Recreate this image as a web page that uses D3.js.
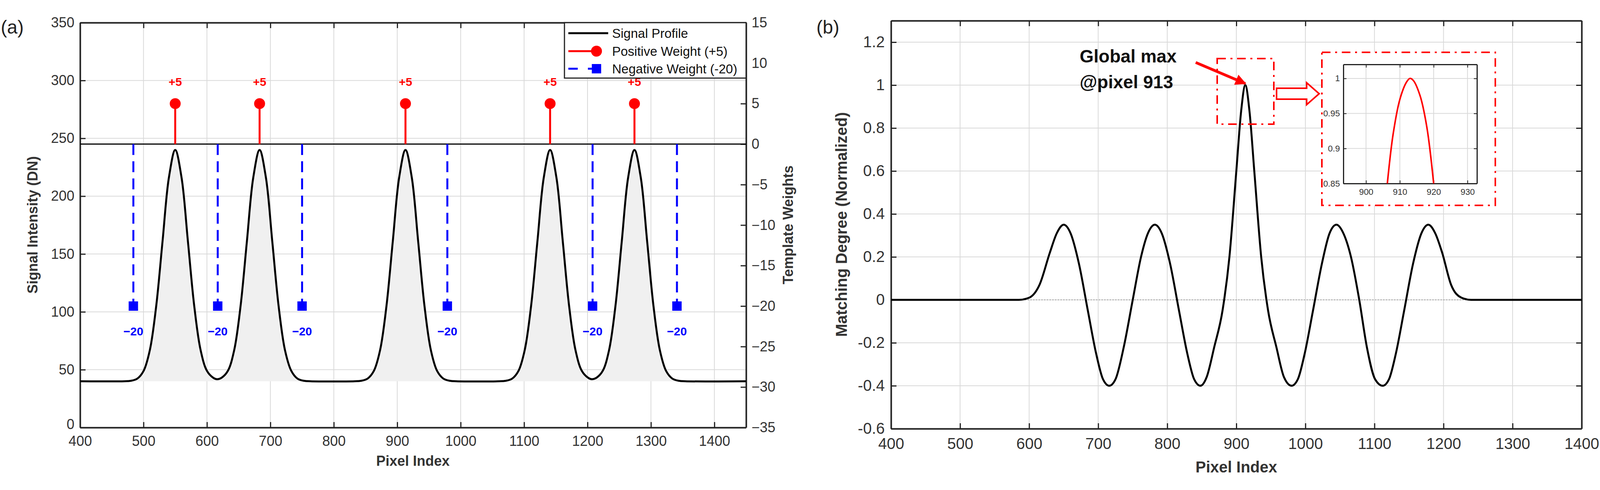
<!DOCTYPE html>
<html>
<head>
<meta charset="utf-8">
<script src="https://cdn.jsdelivr.net/npm/d3@7"></script>
<style>
  body { margin: 0; background: #fff; }
  text { font-family: Arial, "Liberation Sans", sans-serif; }
</style>
</head>
<body>
<svg id="chart" width="4120" height="1255"></svg>
<script>
// ---- data ----
// panel (a): signal profile (DN)
var signalX = [400, 470, 480, 490, 500, 510, 520, 530, 540, 550, 560, 570, 580, 590, 600, 610, 616, 623, 633, 643, 653, 663, 673, 683, 693, 703, 713, 723, 733, 743, 753, 763,
  833, 843, 853, 863, 873, 883, 893, 903, 913, 923, 933, 943, 953, 963, 973, 983, 993,
  1061, 1071, 1081, 1091, 1101, 1111, 1121, 1131, 1141, 1151, 1161, 1171, 1181, 1191, 1201, 1207, 1214, 1224, 1234, 1244, 1254, 1264, 1274, 1284, 1294, 1304, 1314, 1324, 1334, 1344, 1354, 1450];
var signalY = [40, 40, 40.4, 42.2, 48.8, 67, 105, 161, 216, 240, 216, 161, 105, 67, 49, 43, 41.8, 43, 49, 67, 105, 161, 216, 240, 216, 161, 105, 67, 49, 42.2, 40.4, 40,
  40, 40.4, 42.2, 48.8, 67, 105, 161, 216, 240, 216, 161, 105, 67, 48.8, 42.2, 40.4, 40,
  40, 40.4, 42.2, 48.8, 67, 105, 161, 216, 240, 216, 161, 105, 67, 49, 43, 41.8, 43, 49, 67, 105, 161, 216, 240, 216, 161, 105, 67, 48.8, 42.2, 40.4, 40, 40];
var baseline = 40;
var posX = [550, 683, 913, 1141, 1274];
var posW = 5;
var negX = [484, 617, 750, 979, 1208, 1341];
var negW = -20;

// panel (b): matching degree
var matchX = [400, 500, 585, 600, 615, 630, 640, 650, 660, 672, 685, 697, 707, 716, 725, 737, 750, 762, 772, 782, 792, 804, 817, 829, 839, 848, 857, 868, 880, 890, 900, 907, 913,
  919, 926, 936, 946, 958, 969, 980, 989, 999, 1011, 1024, 1035, 1045, 1055, 1066, 1078, 1089, 1101, 1112, 1121, 1131, 1143, 1156, 1168, 1178, 1188, 1198, 1211, 1226, 1240, 1320, 1400];
var matchY = [0, 0, 0, 0.01, 0.07, 0.22, 0.31, 0.35, 0.31, 0.17, -0.05, -0.25, -0.37, -0.40, -0.37, -0.22, 0.0, 0.2, 0.31, 0.35, 0.31, 0.17, -0.05, -0.25, -0.37, -0.40, -0.36, -0.22, -0.05, 0.2, 0.6, 0.88, 1.0,
  0.88, 0.6, 0.2, -0.05, -0.22, -0.36, -0.40, -0.37, -0.25, -0.05, 0.17, 0.31, 0.35, 0.31, 0.2, 0.0, -0.22, -0.37, -0.40, -0.37, -0.25, -0.05, 0.17, 0.31, 0.35, 0.31, 0.22, 0.07, 0.01, 0, 0, 0];
// zoomed peak
var insetX = [906.3, 908, 910, 912, 913, 914, 916, 918, 920];
var insetY = [0.85, 0.92, 0.97, 0.995, 1.0, 0.997, 0.975, 0.93, 0.85];

var xTicksA = d3.range(400, 1401, 100);
var yTicksA = d3.range(0, 351, 50);
var wTicks = d3.range(-35, 16, 5);
var xTicksB = d3.range(400, 1401, 100);
var yTicksB = [-0.6, -0.4, -0.2, 0, 0.2, 0.4, 0.6, 0.8, 1, 1.2];

var svg = d3.select("#chart");
var grid = "#d9d9d9";
var fmt = d => String(+d.toFixed(2));

// helper: draw a boxed axes frame with grid + inward ticks
function frame(g, x, y, xt, yt, fs, tick, rightTicks) {
  var x0 = x.range()[0], x1 = x.range()[1], y0 = y.range()[0], y1 = y.range()[1];
  g.selectAll(".gx").data(xt).join("line").attr("x1", x).attr("x2", x).attr("y1", y1).attr("y2", y0)
    .attr("stroke", grid).attr("stroke-width", 2);
  g.selectAll(".gy").data(yt).join("line").attr("class", "gy").attr("x1", x0).attr("x2", x1).attr("y1", y).attr("y2", y)
    .attr("stroke", grid).attr("stroke-width", 2);
  var ax = d3.axisBottom(x).tickValues(xt).tickFormat(fmt).tickSize(-tick).tickPadding(fs * 0.6).tickSizeOuter(0);
  g.append("g").attr("transform", `translate(0,${y0})`).call(ax);
  var ay = d3.axisLeft(y).tickValues(yt).tickFormat(fmt).tickSize(-tick).tickPadding(fs * 0.4).tickSizeOuter(0);
  g.append("g").attr("class", "yl").attr("transform", `translate(${x0},0)`).call(ay);
  var axt = d3.axisTop(x).tickValues(xt).tickSize(-tick).tickFormat("").tickSizeOuter(0);
  g.append("g").attr("transform", `translate(0,${y1})`).call(axt);
  if (!rightTicks) {
    var ayr = d3.axisRight(y).tickValues(yt).tickSize(-tick).tickFormat("").tickSizeOuter(0);
    g.append("g").attr("transform", `translate(${x1},0)`).call(ayr);
  }
  g.selectAll(".domain").attr("stroke", "#222").attr("stroke-width", 4);
  g.selectAll(".tick line").attr("stroke", "#222").attr("stroke-width", 3);
  g.selectAll(".tick text").attr("font-size", fs).attr("fill", "#333").attr("font-family", "Arial");
}

// ---------- panel (a) ----------
var xa = d3.scaleLinear().domain([400, 1450]).range([205, 1910]);
var ya = d3.scaleLinear().domain([0, 350]).range([1095, 58]);
var yw = d3.scaleLinear().domain([-35, 15]).range([1095, 58]);
var ga = svg.append("g");

frame(ga, xa, ya, xTicksA, yTicksA, 36, 14, true);
// lift the bottom "0" a little so it clears "400"
ga.select(".yl").selectAll(".tick text").filter(d => d === 0).attr("dy", "0.1em");
// right axis
var ayw = d3.axisRight(yw).tickValues(wTicks).tickSize(-14).tickPadding(14).tickSizeOuter(0);
ga.append("g").attr("transform", `translate(1910,0)`).call(ayw)
  .call(s => s.select(".domain").attr("stroke", "#222").attr("stroke-width", 4))
  .call(s => s.selectAll(".tick line").attr("stroke", "#222").attr("stroke-width", 3))
  .call(s => s.selectAll(".tick text").attr("font-size", 36).attr("fill", "#333"));

var pts = signalX.map((d, i) => [d, signalY[i]]);
ga.append("path").datum(pts)
  .attr("d", d3.area().x(d => xa(d[0])).y0(ya(baseline)).y1(d => ya(d[1])).curve(d3.curveCatmullRom.alpha(0.5)))
  .attr("fill", "#f0f0f0");
ga.append("path").datum(pts)
  .attr("d", d3.line().x(d => xa(d[0])).y(d => ya(d[1])).curve(d3.curveCatmullRom.alpha(0.5)))
  .attr("fill", "none").attr("stroke", "#000").attr("stroke-width", 5);

// zero line of template weights
ga.append("line").attr("x1", 205).attr("x2", 1910).attr("y1", yw(0)).attr("y2", yw(0))
  .attr("stroke", "#000").attr("stroke-width", 3);

// positive stems
ga.selectAll(".ps").data(posX).join("line").attr("x1", xa).attr("x2", xa)
  .attr("y1", yw(0)).attr("y2", yw(posW)).attr("stroke", "red").attr("stroke-width", 5);
ga.selectAll(".pm").data(posX).join("circle").attr("cx", xa).attr("cy", yw(posW)).attr("r", 14).attr("fill", "red");
ga.selectAll(".pl").data(posX).join("text").attr("x", xa).attr("y", yw(posW + 2.2))
  .attr("text-anchor", "middle").attr("font-size", 30).attr("font-weight", "bold").attr("fill", "red").text("+5");

// negative stems
ga.selectAll(".ns").data(negX).join("line").attr("x1", xa).attr("x2", xa)
  .attr("y1", yw(0)).attr("y2", yw(negW)).attr("stroke", "blue").attr("stroke-width", 5)
  .attr("stroke-dasharray", "28,16");
ga.selectAll(".nm").data(negX).join("rect").attr("x", d => xa(d) - 12).attr("y", yw(negW) - 12)
  .attr("width", 24).attr("height", 24).attr("fill", "blue");
ga.selectAll(".nl").data(negX).join("text").attr("x", xa).attr("y", yw(negW - 3.6))
  .attr("text-anchor", "middle").attr("font-size", 30).attr("font-weight", "bold").attr("fill", "blue").text("\u221220");

// legend
var lg = ga.append("g");
lg.append("rect").attr("x", 1445).attr("y", 58).attr("width", 465).attr("height", 142)
  .attr("fill", "#fff").attr("stroke", "#222").attr("stroke-width", 3);
lg.append("line").attr("x1", 1455).attr("x2", 1557).attr("y1", 85).attr("y2", 85).attr("stroke", "#000").attr("stroke-width", 5);
lg.append("line").attr("x1", 1455).attr("x2", 1527).attr("y1", 131).attr("y2", 131).attr("stroke", "red").attr("stroke-width", 5);
lg.append("circle").attr("cx", 1527).attr("cy", 131).attr("r", 14).attr("fill", "red");
lg.append("line").attr("x1", 1455).attr("x2", 1540).attr("y1", 176).attr("y2", 176).attr("stroke", "blue").attr("stroke-width", 5).attr("stroke-dasharray", "24,26");
lg.append("rect").attr("x", 1515).attr("y", 164).attr("width", 24).attr("height", 24).attr("fill", "blue");
["Signal Profile", "Positive Weight (+5)", "Negative Weight (-20)"].forEach(function (t, i) {
  lg.append("text").attr("x", 1567).attr("y", 85 + i * 45.5 + 12).attr("font-size", 33).attr("fill", "#111").text(t);
});

ga.append("text").attr("x", 1057).attr("y", 1193).attr("text-anchor", "middle").attr("font-size", 36).attr("font-weight", "bold").attr("fill", "#333").text("Pixel Index");
ga.append("text").attr("transform", "translate(96,576) rotate(-90)").attr("text-anchor", "middle").attr("font-size", 36).attr("font-weight", "bold").attr("fill", "#333").text("Signal Intensity (DN)");
ga.append("text").attr("transform", "translate(2030,576) rotate(-90)").attr("text-anchor", "middle").attr("font-size", 36).attr("font-weight", "bold").attr("fill", "#333").text("Template Weights");
svg.append("text").attr("x", 2).attr("y", 86).attr("font-size", 48).attr("fill", "#222").text("(a)");

// ---------- panel (b) ----------
var xb = d3.scaleLinear().domain([400, 1400]).range([2281, 4049]);
var yb = d3.scaleLinear().domain([-0.6, 1.3]).range([1098, 53]);
var gb = svg.append("g");
frame(gb, xb, yb, xTicksB, yTicksB, 40, 14, false);
gb.append("line").attr("x1", 2281).attr("x2", 4049).attr("y1", yb(0)).attr("y2", yb(0))
  .attr("stroke", "#999").attr("stroke-width", 2).attr("stroke-dasharray", "3,4");
var mpts = matchX.map((d, i) => [d, matchY[i]]);
gb.append("path").datum(mpts)
  .attr("d", d3.line().x(d => xb(d[0])).y(d => yb(d[1])).curve(d3.curveMonotoneX))
  .attr("fill", "none").attr("stroke", "#000").attr("stroke-width", 5);

gb.append("text").attr("x", 3165).attr("y", 1210).attr("text-anchor", "middle").attr("font-size", 40).attr("font-weight", "bold").attr("fill", "#333").text("Pixel Index");
gb.append("text").attr("transform", "translate(2168,575) rotate(-90)").attr("text-anchor", "middle").attr("font-size", 40).attr("font-weight", "bold").attr("fill", "#333").text("Matching Degree (Normalized)");
svg.append("text").attr("x", 2090).attr("y", 86).attr("font-size", 48).attr("fill", "#222").text("(b)");

// annotation
gb.append("text").attr("x", 2764).attr("y", 160).attr("font-size", 46).attr("font-weight", "bold").attr("fill", "#111").text("Global max");
gb.append("text").attr("x", 2764).attr("y", 226).attr("font-size", 46).attr("font-weight", "bold").attr("fill", "#111").text("@pixel 913");
svg.append("defs").append("marker").attr("id", "ah").attr("viewBox", "0 0 10 10").attr("refX", 9).attr("refY", 5)
  .attr("markerWidth", 4).attr("markerHeight", 4).attr("orient", "auto")
  .append("path").attr("d", "M0,0L10,5L0,10z").attr("fill", "red");
gb.append("line").attr("x1", 3061).attr("y1", 160).attr("x2", xb(913)).attr("y2", yb(1) - 4)
  .attr("stroke", "red").attr("stroke-width", 7).attr("marker-end", "url(#ah)");
var dashDot = "22,12,5,12";
gb.append("rect").attr("x", 3116).attr("y", 150).attr("width", 145).attr("height", 168)
  .attr("fill", "none").attr("stroke", "red").attr("stroke-width", 4).attr("stroke-dasharray", dashDot);
gb.append("path").attr("d", "M3268,226 L3345,226 L3345,212 L3377,240 L3345,268 L3345,254 L3268,254 Z")
  .attr("fill", "#fff").attr("stroke", "red").attr("stroke-width", 4);
gb.append("rect").attr("x", 3384).attr("y", 134).attr("width", 444).attr("height", 392)
  .attr("fill", "#fff").attr("stroke", "red").attr("stroke-width", 4).attr("stroke-dasharray", dashDot);

// inset axes
var xi = d3.scaleLinear().domain([893.3, 932.8]).range([3439, 3781]);
var yi = d3.scaleLinear().domain([0.85, 1.02]).range([470, 165]);
var gi = gb.append("g");
frame(gi, xi, yi, [900, 910, 920, 930], [0.85, 0.9, 0.95, 1], 22, 8, false);
gi.selectAll(".domain").attr("stroke-width", 3);
gi.selectAll(".tick line").attr("stroke-width", 2);
gi.append("clipPath").attr("id", "ic").append("rect").attr("x", 3439).attr("y", 165).attr("width", 342).attr("height", 305);
var ipts = insetX.map((d, i) => [d, insetY[i]]);
gi.append("path").datum(ipts).attr("clip-path", "url(#ic)")
  .attr("d", d3.line().x(d => xi(d[0])).y(d => yi(d[1])).curve(d3.curveCatmullRom.alpha(0.5)))
  .attr("fill", "none").attr("stroke", "red").attr("stroke-width", 4);
</script>
</body>
</html>
